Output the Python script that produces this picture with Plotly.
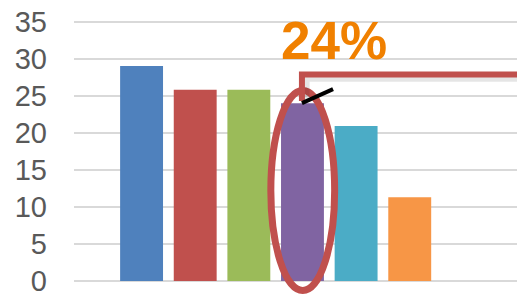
import plotly.graph_objects as go

categories = ["A", "B", "C", "D", "E", "F"]
values = [29.0, 25.8, 25.8, 24.0, 20.9, 11.3]
colors = ["#4F81BD", "#C0504D", "#9BBB59", "#8064A2", "#4BACC6", "#F79646"]
y_ticks = [0, 5, 10, 15, 20, 25, 30, 35]
highlight_label = "24%"
highlight_index = 3

fig = go.Figure()
fig.add_trace(go.Bar(x=categories, y=values, marker=dict(color=colors, line=dict(width=0)),
                     width=0.8, hoverinfo="skip"))

hx = highlight_index
red = "#C0504D"
shapes = [
    # ellipse around the highlighted bar
    dict(type="circle", xref="x", yref="y", x0=hx - 0.59, x1=hx + 0.60, y0=-1.28, y1=25.7,
         line=dict(color=red, width=7), layer="above"),
    # shadow of callout
    dict(type="path", xref="x", yref="y",
         path=f"M {hx+0.05},24.3 L {hx+0.05},27.5 L 9,27.5",
         line=dict(color="rgba(0,0,0,0.10)", width=9), layer="above"),
    # callout border
    dict(type="path", xref="x", yref="y",
         path=f"M {hx-0.01},24.3 L {hx-0.01},27.87 L 9,27.87",
         line=dict(color=red, width=6), layer="above"),
    # black pointer
    dict(type="line", xref="x", yref="y", x0=hx - 0.01, y0=24.0, x1=hx + 0.57, y1=25.9,
         line=dict(color="black", width=4), layer="above"),
]

fig.update_layout(
    width=517, height=295,
    margin=dict(l=74, r=0, t=0, b=0, autoexpand=False),
    paper_bgcolor="white", plot_bgcolor="white",
    showlegend=False,
    bargap=0.2,
    shapes=shapes,
    annotations=[dict(text=highlight_label, xref="x", yref="y", x=hx + 0.59, y=32.4,
                      showarrow=False, xanchor="center", yanchor="middle",
                      font=dict(family="Liberation Sans", size=53, color="#F08000", weight="bold"))],
    xaxis=dict(type="category", range=[-1.26, 7.0], showticklabels=False, showgrid=False,
               zeroline=False, showline=False, ticks="", automargin=False),
    yaxis=dict(range=[-1.89, 37.92], tickvals=y_ticks, ticktext=[str(v) for v in y_ticks],
               showgrid=True, gridcolor="#D9D9D9", gridwidth=1.5, zeroline=False,
               showline=False, ticks="", ticklabelstandoff=26, automargin=False,
               ticklabeloverflow="allow",
               tickfont=dict(family="Liberation Sans", size=29, color="#595959")),
)

fig.write_html("out.html", config={"displayModeBar": False},
               post_script="document.body.style.margin='0px';document.body.style.overflow='hidden';")
